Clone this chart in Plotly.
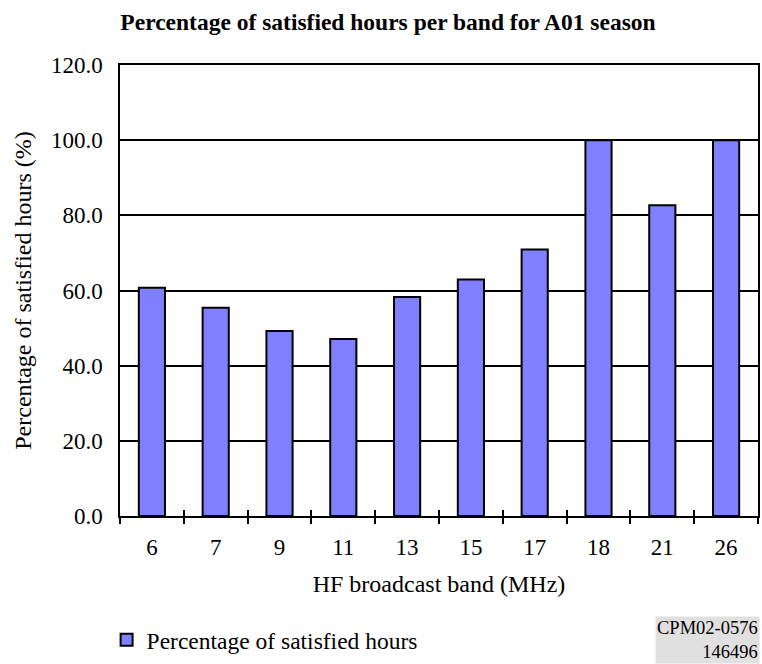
import plotly.graph_objects as go

bands = ["6", "7", "9", "11", "13", "15", "17", "18", "21", "26"]
satisfied_pct = [60.7, 55.4, 49.2, 47.1, 58.3, 62.9, 70.9, 100.0, 82.7, 100.0]
y_ticks = [0, 20, 40, 60, 80, 100, 120]

FONT = "Liberation Serif"

def f(size, **kw):
    return dict(family=FONT, size=size, color="black", **kw)

fig = go.Figure()
fig.add_trace(go.Bar(
    x=bands, y=satisfied_pct,
    name="Percentage of satisfied hours",
    marker=dict(color="#8080ff", line=dict(color="black", width=2)),
    width=0.41,
))
# helper trace for the inner half of crossing tick marks
fig.add_trace(go.Scatter(
    x=bands, y=satisfied_pct, xaxis="x2", mode="lines",
    line=dict(color="rgba(0,0,0,0)"), showlegend=False, hoverinfo="skip",
))

fig.update_layout(
    width=762, height=664,
    margin=dict(l=120, r=2, t=65, b=148),
    paper_bgcolor="white", plot_bgcolor="white",
    font=f(23),
    title=dict(
        text="<b>Percentage of satisfied hours per band for A01 season</b>",
        x=388 / 762, xref="container", xanchor="center",
        y=1 - 22 / 664, yref="container", yanchor="middle",
        font=f(23.5),
    ),
    xaxis=dict(
        type="category", categoryarray=bands,
        showline=True, linecolor="black", linewidth=1.5, mirror=True,
        ticks="outside", ticklen=6, tickwidth=1.5, tickcolor="black",
        tickson="boundaries", showgrid=False, ticklabelstandoff=10,
        title=dict(text="HF broadcast band (MHz)", standoff=16, font=f(24)),
        tickfont=f(23),
    ),
    xaxis2=dict(
        type="category", categoryarray=bands, overlaying="x", matches="x",
        ticks="inside", ticklen=6, tickwidth=1.5, tickcolor="black",
        tickson="boundaries", showticklabels=False, showgrid=False,
        showline=False, side="bottom",
    ),
    yaxis=dict(
        range=[0, 120], tickvals=y_ticks, tickformat=".1f",
        showline=True, linecolor="black", linewidth=1.5, mirror=True,
        showgrid=True, gridcolor="black", gridwidth=2,
        ticks="", ticklabelstandoff=11, zeroline=False,
        title=dict(text="Percentage of satisfied hours (%)", standoff=13, font=f(24)),
        tickfont=f(23),
    ),
    showlegend=True,
    legend=dict(
        x=-0.021, xanchor="left", y=(516 - 640) / 451, yanchor="middle",
        font=f(23.5), bgcolor="rgba(0,0,0,0)",
    ),
    annotations=[dict(
        text="CPM02-0576<br>146496", xref="paper", yref="paper",
        x=1.003, xanchor="right", y=(516 - 664) / 451, yanchor="bottom",
        align="right", showarrow=False, bgcolor="#e0e0e0",
        font=f(18.5), borderpad=1,
    )],
    bargap=0.59,
)

fig.write_html("out.html")
